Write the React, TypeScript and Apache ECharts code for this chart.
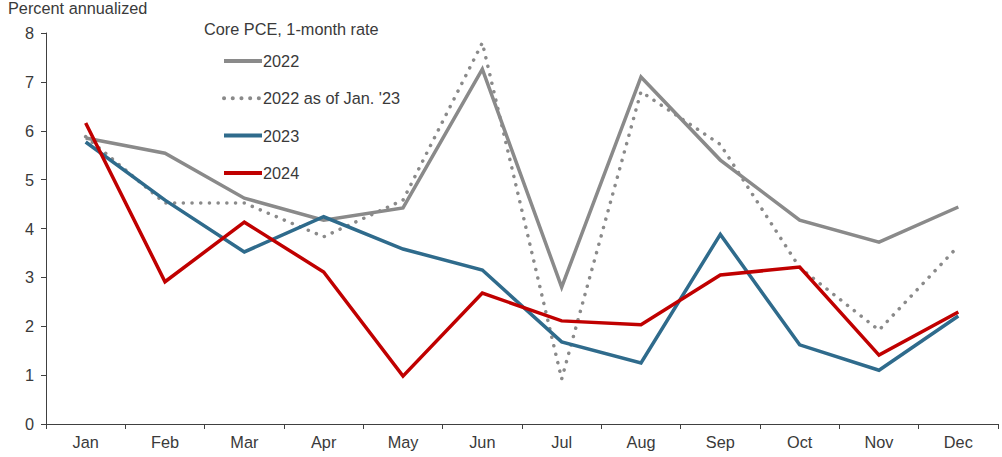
import React, { useEffect, useRef } from "react";
import * as echarts from "echarts";

const months = ["Jan", "Feb", "Mar", "Apr", "May", "Jun", "Jul", "Aug", "Sep", "Oct", "Nov", "Dec"];
const s2022 = [5.85, 5.54, 4.62, 4.17, 4.42, 7.26, 2.8, 7.1, 5.4, 4.17, 3.72, 4.44];
const s2022Jan23 = [5.88, 4.52, 4.52, 3.83, 4.58, 7.8, 0.92, 6.8, 5.72, 3.2, 1.92, 3.64];
const s2023 = [5.77, 4.58, 3.52, 4.24, 3.58, 3.15, 1.68, 1.25, 3.88, 1.62, 1.1, 2.21];
const s2024 = [6.16, 2.91, 4.13, 3.11, 0.98, 2.68, 2.11, 2.03, 3.05, 3.21, 1.41, 2.29];
const yTicks = [0, 1, 2, 3, 4, 5, 6, 7, 8];

const FONT = "'Liberation Sans', Arial, sans-serif";
const TXT = "#3a3a3a";
const FS = 16.3;

export default function App() {
  const ref = useRef<HTMLDivElement>(null);
  useEffect(() => {
    if (!ref.current) return;
    const chart = echarts.init(ref.current, null, { renderer: "svg" });
    const mk = (name: string, data: number[], color: string, type: any, cap: any) => ({
      name,
      type: "line",
      data,
      symbol: "none",
      showSymbol: false,
      lineStyle: { color, width: 3.5, type, cap, join: "miter" },
      itemStyle: { color },
      emphasis: { disabled: true },
    });
    chart.setOption({
      animation: false,
      textStyle: { fontFamily: FONT },
      title: {
        text: "Core PCE, 1-month rate",
        left: 204,
        top: 21,
        padding: 0,
        textStyle: { fontFamily: FONT, fontSize: FS, fontWeight: "normal", color: TXT },
      },
      graphic: [
        {
          type: "text",
          left: 8,
          top: 0,
          style: { text: "Percent annualized", font: `${FS}px ${FONT}`, fill: TXT },
        },
      ],
      legend: {
        orient: "vertical",
        left: 222,
        top: 53,
        padding: 0,
        itemWidth: 38,
        itemHeight: 16,
        itemGap: 21.3,
        itemStyle: { opacity: 0 },
        lineStyle: { width: 4 },
        textStyle: { fontFamily: FONT, fontSize: FS, color: TXT, lineHeight: 16, padding: [0, 0, 0, -4] },
        data: ["2022", "2022 as of Jan. '23", "2023", "2024"],
      },
      grid: { left: 46, right: 4, top: 33, bottom: 33, containLabel: false },
      xAxis: {
        type: "category",
        data: months,
        boundaryGap: true,
        axisLine: { lineStyle: { color: "#404040", width: 1 } },
        axisTick: { show: true, length: 5, lineStyle: { color: "#404040" } },
        axisLabel: { color: TXT, fontSize: FS, fontFamily: FONT, margin: 10 },
      },
      yAxis: {
        type: "value",
        min: yTicks[0],
        max: yTicks[yTicks.length - 1],
        interval: 1,
        splitLine: { show: false },
        axisLine: { show: true, lineStyle: { color: "#404040", width: 1 } },
        axisTick: { show: true, length: 5, lineStyle: { color: "#404040" } },
        axisLabel: { color: TXT, fontSize: FS, fontFamily: FONT, margin: 12 },
      },
      series: [
        mk("2022", s2022, "#8a8a8a", "solid", "butt"),
        mk("2022 as of Jan. '23", s2022Jan23, "#8a8a8a", [0.1, 8.6], "round"),
        mk("2023", s2023, "#2f6b8c", "solid", "butt"),
        mk("2024", s2024, "#c00000", "solid", "butt"),
      ],
    });
    return () => chart.dispose();
  }, []);
  return <div ref={ref} style={{ width: 1002, height: 457, position: "absolute", left: 0, top: 0 }} />;
}
